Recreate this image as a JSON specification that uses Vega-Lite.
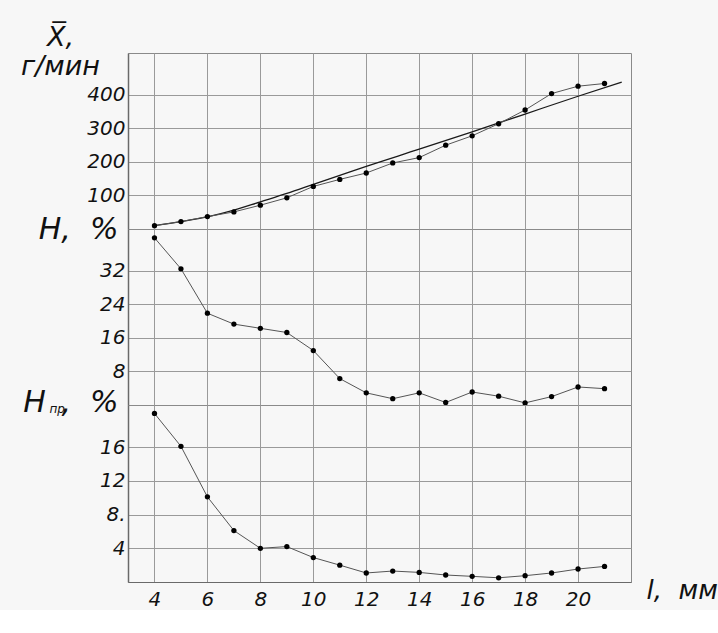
{
  "$schema": "https://vega.github.io/schema/vega-lite/v6.json",
  "background": "#f7f7f7",
  "padding": {"left": 20, "top": 22, "right": 0, "bottom": 0},
  "spacing": 0,
  "bounds": "flush",
  "config": {
    "font": "DejaVu Sans",
    "view": {"stroke": "#8a8a8a", "strokeWidth": 1},
    "axis": {
      "labelFont": "DejaVu Sans",
      "titleFont": "DejaVu Sans",
      "labelFontStyle": "italic",
      "titleFontStyle": "italic",
      "titleFontWeight": "normal",
      "labelColor": "#111",
      "titleColor": "#111",
      "gridColor": "#9a9a9a",
      "gridOpacity": 1,
      "gridWidth": 1,
      "tickSize": 0,
      "ticks": false,
      "domain": false,
      "labelFontSize": 20
    }
  },
  "datasets": {
    "xbar": [
      {"l": 4, "v": 10}, {"l": 5, "v": 22}, {"l": 6, "v": 37}, {"l": 7, "v": 51},
      {"l": 8, "v": 71}, {"l": 9, "v": 93}, {"l": 10, "v": 127}, {"l": 11, "v": 148},
      {"l": 12, "v": 167}, {"l": 13, "v": 197}, {"l": 14, "v": 213}, {"l": 15, "v": 250},
      {"l": 16, "v": 278}, {"l": 17, "v": 314}, {"l": 18, "v": 355}, {"l": 19, "v": 404},
      {"l": 20, "v": 426}, {"l": 21, "v": 434}
    ],
    "trend": [
      {"l": 4, "v": 10}, {"l": 5, "v": 22}, {"l": 6, "v": 36}, {"l": 7, "v": 56},
      {"l": 8, "v": 81}, {"l": 9, "v": 106}, {"l": 10, "v": 133}, {"l": 11, "v": 160},
      {"l": 12, "v": 187}, {"l": 14, "v": 238}, {"l": 16, "v": 290}, {"l": 18, "v": 343},
      {"l": 20, "v": 396}, {"l": 21.65, "v": 438}
    ],
    "h": [
      {"l": 4, "v": 39.9}, {"l": 5, "v": 32.5}, {"l": 6, "v": 21.9}, {"l": 7, "v": 19.3},
      {"l": 8, "v": 18.3}, {"l": 9, "v": 17.3}, {"l": 10, "v": 13.0}, {"l": 11, "v": 6.3},
      {"l": 12, "v": 2.9}, {"l": 13, "v": 1.5}, {"l": 14, "v": 2.9}, {"l": 15, "v": 0.6},
      {"l": 16, "v": 3.1}, {"l": 17, "v": 2.1}, {"l": 18, "v": 0.5}, {"l": 19, "v": 2.0},
      {"l": 20, "v": 4.3}, {"l": 21, "v": 3.9}
    ],
    "hpr": [
      {"l": 4, "v": 20.0}, {"l": 5, "v": 16.1}, {"l": 6, "v": 10.1}, {"l": 7, "v": 6.1},
      {"l": 8, "v": 4.0}, {"l": 9, "v": 4.2}, {"l": 10, "v": 2.9}, {"l": 11, "v": 2.0},
      {"l": 12, "v": 1.07}, {"l": 13, "v": 1.3}, {"l": 14, "v": 1.14}, {"l": 15, "v": 0.83},
      {"l": 16, "v": 0.67}, {"l": 17, "v": 0.5}, {"l": 18, "v": 0.75}, {"l": 19, "v": 1.07},
      {"l": 20, "v": 1.54}, {"l": 21, "v": 1.85}
    ]
  },
  "vconcat": [
    {
      "width": 503,
      "height": 176,
      "layer": [
        {
          "data": {"name": "trend"},
          "mark": {"type": "line", "interpolate": "monotone", "color": "#1a1a1a", "strokeWidth": 1.3},
          "encoding": {
            "x": {"field": "l", "type": "quantitative", "scale": {"domain": [3, 22], "nice": false, "zero": false},
              "axis": {"values": [4, 6, 8, 10, 12, 14, 16, 18, 20], "labels": false, "title": null, "grid": true}},
            "y": {"field": "v", "type": "quantitative", "scale": {"domain": [0, 525], "nice": false},
              "axis": {"values": [100, 200, 300, 400], "grid": true, "labelPadding": 3, "labelBaseline": "middle",
                "domain": true, "domainColor": "#6a6a6a", "domainWidth": 1.5,
                "title": ["X̅,", "г/мин"], "titleFontSize": 27, "titleAngle": 0, "titleAlign": "center",
                "titleBaseline": "alphabetic", "titleX": -68, "titleY": -8, "titleLineHeight": 29}}
          }
        },
        {
          "data": {"name": "xbar"},
          "mark": {"type": "line", "color": "#555", "strokeWidth": 1},
          "encoding": {
            "x": {"field": "l", "type": "quantitative"},
            "y": {"field": "v", "type": "quantitative"}
          }
        },
        {
          "data": {"name": "xbar"},
          "mark": {"type": "point", "filled": true, "color": "#000", "opacity": 1, "size": 28},
          "encoding": {
            "x": {"field": "l", "type": "quantitative"},
            "y": {"field": "v", "type": "quantitative"}
          }
        }
      ]
    },
    {
      "width": 503,
      "height": 176,
      "layer": [
        {
          "data": {"name": "h"},
          "mark": {"type": "line", "color": "#555", "strokeWidth": 1},
          "encoding": {
            "x": {"field": "l", "type": "quantitative", "scale": {"domain": [3, 22], "nice": false, "zero": false},
              "axis": {"values": [4, 6, 8, 10, 12, 14, 16, 18, 20], "labels": false, "grid": true,
                "title": "пр", "titleFontSize": 12, "titleAlign": "left", "titleBaseline": "alphabetic",
                "titleX": -79, "titleY": 7}},
            "y": {"field": "v", "type": "quantitative", "scale": {"domain": [0, 42], "nice": false},
              "axis": {"values": [8, 16, 24, 32], "grid": true, "labelPadding": 3, "labelBaseline": "middle",
                "domain": true, "domainColor": "#6a6a6a", "domainWidth": 1.5,
                "title": "H,\u00a0\u00a0%", "titleFontSize": 30, "titleAngle": 0, "titleAlign": "right",
                "titleBaseline": "middle", "titleX": -10, "titleY": 0}}
          }
        },
        {
          "data": {"name": "h"},
          "mark": {"type": "point", "filled": true, "color": "#000", "opacity": 1, "size": 28},
          "encoding": {
            "x": {"field": "l", "type": "quantitative"},
            "y": {"field": "v", "type": "quantitative"}
          }
        }
      ]
    },
    {
      "width": 503,
      "height": 177,
      "layer": [
        {
          "data": {"name": "hpr"},
          "mark": {"type": "line", "color": "#555", "strokeWidth": 1},
          "encoding": {
            "x": {"field": "l", "type": "quantitative", "scale": {"domain": [3, 22], "nice": false, "zero": false},
              "axis": {"values": [4, 6, 8, 10, 12, 14, 16, 18, 20], "grid": true, "labelPadding": 7,
                "domain": true, "domainColor": "#6a6a6a", "domainWidth": 1.2,
                "title": "l,\u00a0\u00a0мм", "titleFontSize": 26, "titleAlign": "left", "titleBaseline": "alphabetic",
                "titleX": 518, "titleY": 16}},
            "y": {"field": "v", "type": "quantitative", "scale": {"domain": [0, 21], "nice": false},
              "axis": {"values": [4, 8, 12, 16], "grid": true, "labelPadding": 3, "labelBaseline": "middle",
                "labelExpr": "datum.value == 8 ? '8.' : datum.label",
                "domain": true, "domainColor": "#6a6a6a", "domainWidth": 1.5,
                "title": "H\u00a0\u2009,\u00a0\u00a0%", "titleFontSize": 30, "titleAngle": 0, "titleAlign": "right",
                "titleBaseline": "middle", "titleX": -10, "titleY": -3}}
          }
        },
        {
          "data": {"name": "hpr"},
          "mark": {"type": "point", "filled": true, "color": "#000", "opacity": 1, "size": 28},
          "encoding": {
            "x": {"field": "l", "type": "quantitative"},
            "y": {"field": "v", "type": "quantitative"}
          }
        }
      ]
    }
  ]
}
